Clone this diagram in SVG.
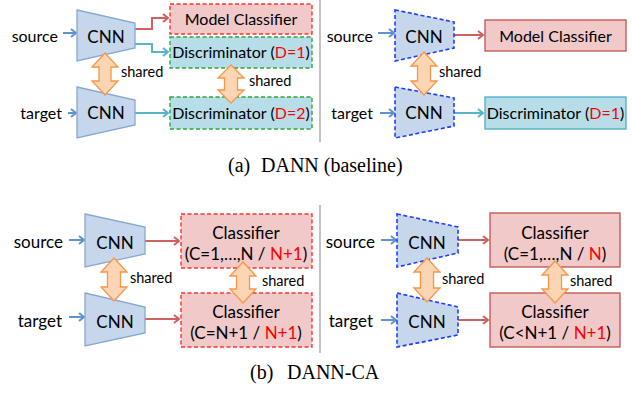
<svg xmlns="http://www.w3.org/2000/svg" width="632" height="395" viewBox="0 0 632 395">
<defs>
<style>
.t{font-family:Lato,"Liberation Sans",sans-serif;font-size:16px;fill:#000}
.sh{font-family:Lato,"Liberation Sans",sans-serif;font-size:14.5px;fill:#000}
.big{font-size:17px}
.r{fill:#ff0000}
.cap{font-family:"Liberation Serif","Times New Roman",serif;font-size:20px;fill:#000}
.cnn{fill:#c6d6eb;stroke:#86a8d6;stroke-width:1.3}
.cnnd{fill:#c6d6eb;stroke:#1f3dff;stroke-width:1.6;stroke-dasharray:4 2.5}
.pinkd{fill:#f1c9c9;stroke:#ff3030;stroke-width:1.4;stroke-dasharray:4 2.5}
.pink{fill:#f1c9c9;stroke:#c0504d;stroke-width:1.3}
.blued{fill:#b7dee8;stroke:#2ea836;stroke-width:1.4;stroke-dasharray:4 2.5}
.blue{fill:#b7dee8;stroke:#4bacc6;stroke-width:1.3}
.shr{fill:#fcd5b4;stroke:#f79646;stroke-width:1.3;stroke-linejoin:miter}
.in{fill:none;stroke:#5f93cf;stroke-width:2;marker-end:url(#mi)}
.red{fill:none;stroke:#cd625e;stroke-width:2;marker-end:url(#mr)}
.teal{fill:none;stroke:#57b4cc;stroke-width:2;marker-end:url(#mt)}
.div{stroke:#9a9a9a;stroke-width:1.2}
</style>
<marker id="mi" markerUnits="userSpaceOnUse" markerWidth="10" markerHeight="12" refX="6" refY="5" orient="auto"><path d="M1,1 L6,5 L1,9" fill="none" stroke="#5f93cf" stroke-width="2"/></marker>
<marker id="mr" markerUnits="userSpaceOnUse" markerWidth="10" markerHeight="12" refX="6" refY="5" orient="auto"><path d="M1,1 L6,5 L1,9" fill="none" stroke="#cd625e" stroke-width="2"/></marker>
<marker id="mt" markerUnits="userSpaceOnUse" markerWidth="10" markerHeight="12" refX="6" refY="5" orient="auto"><path d="M1,1 L6,5 L1,9" fill="none" stroke="#57b4cc" stroke-width="2"/></marker>
</defs>
<rect width="632" height="395" fill="#fff"/>

<g id="dividers">
<line class="div" x1="320" y1="0" x2="320" y2="142"/>
<line class="div" x1="320" y1="205" x2="320" y2="353"/>
</g>

<g id="connectors">
<line class="in" x1="63" y1="33" x2="76" y2="33"/>
<line class="in" x1="68" y1="113" x2="76" y2="113"/>
<path class="red" d="M135,29 H152 V18 H168"/>
<path class="teal" d="M135,44 H152 V52 H168"/>
<path class="teal" d="M135,113 H168"/>
<line class="in" x1="378" y1="33" x2="394" y2="33"/>
<line class="in" x1="380" y1="113" x2="394" y2="113"/>
<path class="red" d="M454,35 H483"/>
<path class="teal" d="M454,113 H483"/>
<line class="in" x1="69" y1="240" x2="84" y2="240"/>
<line class="in" x1="69" y1="317" x2="84" y2="317"/>
<path class="red" d="M145,241 H179"/>
<path class="red" d="M145,319 H179"/>
<line class="in" x1="381" y1="240" x2="396" y2="240"/>
<line class="in" x1="381" y1="320" x2="396" y2="320"/>
<path class="red" d="M458,240 H488"/>
<path class="red" d="M458,320 H488"/>
</g>

<g id="a-src-label"><text class="t" x="58" y="42" text-anchor="end">source</text></g>
<g id="a-tgt-label"><text class="t" x="62" y="119" text-anchor="end">target</text></g>
<g id="a-cnn-src"><polygon class="cnn" points="77,10 135,23 135,48 77,61"/><text class="t big" x="106" y="43" text-anchor="middle">CNN</text></g>
<g id="a-cnn-tgt"><polygon class="cnn" points="77,87 135,100 135,125 77,138"/><text class="t big" x="106" y="119" text-anchor="middle">CNN</text></g>
<g id="a-model-clf"><rect class="pinkd" x="170" y="4" width="142" height="30"/><text class="t" x="241" y="25" text-anchor="middle">Model Classifier</text></g>
<g id="a-disc1"><rect class="blued" x="170" y="37" width="142" height="31"/><text class="t" x="241" y="58" text-anchor="middle">Discriminator (<tspan class="r">D=1</tspan>)</text></g>
<g id="a-disc2"><rect class="blued" x="170" y="97" width="142" height="32"/><text class="t" x="241" y="119" text-anchor="middle">Discriminator (<tspan class="r">D=2</tspan>)</text></g>
<g id="a-shared-cnn"><polygon class="shr" points="105,53 118,67 111,67 111,81 118,81 105,95 92,81 99,81 99,67 92,67"/><text class="sh" x="121" y="77">shared</text></g>
<g id="a-shared-disc"><polygon class="shr" points="231,65 244,78 237.5,78 237.5,90 244,90 231,103 218,90 224.5,90 224.5,78 218,78"/><text class="sh" x="249" y="86">shared</text></g>

<g id="a2-src-label"><text class="t" x="373" y="42" text-anchor="end">source</text></g>
<g id="a2-tgt-label"><text class="t" x="373" y="119" text-anchor="end">target</text></g>
<g id="a2-cnn-src"><polygon class="cnnd" points="395,10 454,22 454,48 395,61"/><text class="t big" x="424" y="43" text-anchor="middle">CNN</text></g>
<g id="a2-cnn-tgt"><polygon class="cnnd" points="395,87 454,98 454,126 395,138"/><text class="t big" x="424" y="119" text-anchor="middle">CNN</text></g>
<g id="a2-model-clf"><rect class="pink" x="485" y="20" width="141" height="31"/><text class="t" x="555.5" y="41.5" text-anchor="middle">Model Classifier</text></g>
<g id="a2-disc"><rect class="blue" x="485" y="97" width="141" height="32"/><text class="t" x="555.5" y="119" text-anchor="middle">Discriminator (<tspan class="r">D=1</tspan>)</text></g>
<g id="a2-shared-cnn"><polygon class="shr" points="424,52 437,66 430.5,66 430.5,81 437,81 424,95 411,81 417.5,81 417.5,66 411,66"/><text class="sh" x="439" y="77">shared</text></g>

<g id="cap-a"><text class="cap" x="228" y="172">(a)</text><text class="cap" x="261" y="172">DANN (baseline)</text></g>

<g id="b-src-label"><text class="t big" x="63" y="248" text-anchor="end">source</text></g>
<g id="b-tgt-label"><text class="t big" x="62" y="327" text-anchor="end">target</text></g>
<g id="b-cnn-src"><polygon class="cnn" points="85,214 145,227 145,254 85,267"/><text class="t big" x="115" y="249" text-anchor="middle">CNN</text></g>
<g id="b-cnn-tgt"><polygon class="cnn" points="85,293 145,307 145,333 85,346"/><text class="t big" x="115" y="328" text-anchor="middle">CNN</text></g>
<g id="b-clf-src"><rect class="pinkd" x="181" y="214" width="131" height="54"/><text class="t big" x="246" y="239" text-anchor="middle">Classifier</text><text class="t big" x="246" y="260" text-anchor="middle">(C=1,…,N / <tspan class="r">N+1</tspan>)</text></g>
<g id="b-clf-tgt"><rect class="pinkd" x="181" y="293" width="131" height="54"/><text class="t big" x="246" y="318" text-anchor="middle">Classifier</text><text class="t big" x="246" y="339" text-anchor="middle">(C=N+1 / <tspan class="r">N+1</tspan>)</text></g>
<g id="b-shared-cnn"><polygon class="shr" points="114,258 127,272 120.5,272 120.5,287 127,287 114,301 101,287 107.5,287 107.5,272 101,272"/><text class="sh" x="130" y="283">shared</text></g>
<g id="b-shared-clf"><polygon class="shr" points="243,262 256,276 249.5,276 249.5,289 256,289 243,303 230,289 236.5,289 236.5,276 230,276"/><text class="sh" x="262" y="286">shared</text></g>

<g id="b2-src-label"><text class="t big" x="375" y="248" text-anchor="end">source</text></g>
<g id="b2-tgt-label"><text class="t big" x="373" y="327" text-anchor="end">target</text></g>
<g id="b2-cnn-src"><polygon class="cnnd" points="397,214 458,227 458,253 397,267"/><text class="t big" x="427" y="249" text-anchor="middle">CNN</text></g>
<g id="b2-cnn-tgt"><polygon class="cnnd" points="397,293 458,307 458,335 397,347"/><text class="t big" x="427" y="328" text-anchor="middle">CNN</text></g>
<g id="b2-clf-src"><rect class="pink" x="490" y="213" width="130" height="54"/><text class="t big" x="555" y="239" text-anchor="middle">Classifier</text><text class="t big" x="555" y="260" text-anchor="middle">(C=1,…,N / <tspan class="r">N</tspan>)</text></g>
<g id="b2-clf-tgt"><rect class="pink" x="490" y="293" width="130" height="54"/><text class="t big" x="555" y="318" text-anchor="middle">Classifier</text><text class="t big" x="555" y="339" text-anchor="middle">(C&lt;N+1 / <tspan class="r">N+1</tspan>)</text></g>
<g id="b2-shared-cnn"><polygon class="shr" points="427,258 440,272 433.5,272 433.5,288 440,288 427,302 414,288 420.5,288 420.5,272 414,272"/><text class="sh" x="442" y="284">shared</text></g>
<g id="b2-shared-clf"><polygon class="shr" points="555,261 568,275 561.5,275 561.5,289 568,289 555,303 542,289 548.5,289 548.5,275 542,275"/><text class="sh" x="570" y="286">shared</text></g>

<g id="cap-b"><text class="cap" x="250" y="379">(b)</text><text class="cap" x="287" y="379">DANN-CA</text></g>
</svg>
